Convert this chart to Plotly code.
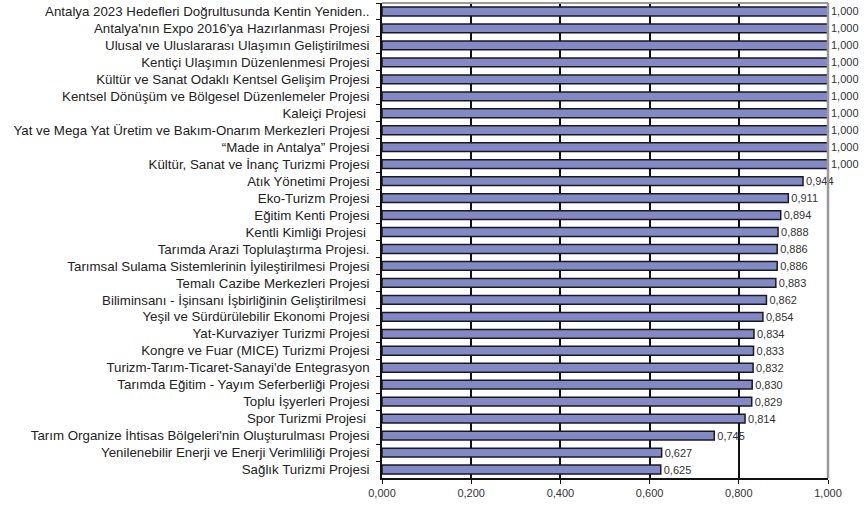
import plotly.graph_objects as go

categories = [
    "Antalya 2023 Hedefleri Doğrultusunda Kentin Yeniden..",
    "Antalya'nın Expo 2016'ya Hazırlanması Projesi",
    "Ulusal ve Uluslararası Ulaşımın Geliştirilmesi",
    "Kentiçi Ulaşımın Düzenlenmesi Projesi",
    "Kültür ve Sanat Odaklı Kentsel Gelişim Projesi",
    "Kentsel Dönüşüm ve Bölgesel Düzenlemeler Projesi",
    "Kaleiçi Projesi ",
    "Yat ve Mega Yat Üretim ve Bakım-Onarım Merkezleri Projesi",
    "“Made in Antalya” Projesi",
    "Kültür, Sanat ve İnanç Turizmi Projesi",
    "Atık Yönetimi Projesi",
    "Eko-Turizm Projesi",
    "Eğitim Kenti Projesi",
    "Kentli Kimliği Projesi ",
    "Tarımda Arazi Toplulaştırma Projesi.",
    "Tarımsal Sulama Sistemlerinin İyileştirilmesi Projesi",
    "Temalı Cazibe Merkezleri Projesi",
    "Biliminsanı - İşinsanı İşbirliğinin Geliştirilmesi ",
    "Yeşil ve Sürdürülebilir Ekonomi Projesi",
    "Yat-Kurvaziyer Turizmi Projesi",
    "Kongre ve Fuar (MICE) Turizmi Projesi",
    "Turizm-Tarım-Ticaret-Sanayi'de Entegrasyon",
    "Tarımda Eğitim - Yayım Seferberliği Projesi",
    "Toplu İşyerleri Projesi",
    "Spor Turizmi Projesi ",
    "Tarım Organize İhtisas Bölgeleri'nin Oluşturulması Projesi",
    "Yenilenebilir Enerji ve Enerji Verimliliği Projesi",
    "Sağlık Turizmi Projesi",
]
values = [1.000, 1.000, 1.000, 1.000, 1.000, 1.000, 1.000, 1.000, 1.000, 1.000,
          0.944, 0.911, 0.894, 0.888, 0.886, 0.886, 0.883, 0.862, 0.854, 0.834,
          0.833, 0.832, 0.830, 0.829, 0.814, 0.745, 0.627, 0.625]
x_ticks = [0.0, 0.2, 0.4, 0.6, 0.8, 1.0]

fig = go.Figure()
fig.add_trace(go.Bar(
    y=categories, x=values, orientation="h",
    marker=dict(color="#8289C9", line=dict(color="#1a1a1a", width=1.5)),
    text=values, texttemplate="%{x:.3f}", textposition="outside",
    constraintext="none",
    textfont=dict(size=11, color="#333333", family="Liberation Sans, Arial, sans-serif"),
    cliponaxis=False,
))

fig.update_layout(
    width=867, height=506,
    margin=dict(l=382, r=39, t=3, b=28, autoexpand=False),
    paper_bgcolor="white", plot_bgcolor="white",
    separators=",.",
    bargap=0.48,
    showlegend=False,
    font=dict(family="Liberation Sans, Arial, sans-serif", size=12, color="#222222"),
    xaxis=dict(
        range=[0, 1], tickvals=x_ticks, tickformat=".3f", automargin=False,
        showgrid=True, gridcolor="#111111", gridwidth=1.5, zeroline=False,
        showline=True, linecolor="#111111", linewidth=1.5,
        ticks="outside", ticklen=4, tickcolor="#111111",
        tickfont=dict(size=11, color="#333333"),
    ),
    yaxis=dict(
        autorange="reversed", showgrid=False, automargin=False,
        showline=True, linecolor="#111111", linewidth=1.5,
        ticks="outside", ticklen=4, tickcolor="#111111", tickson="boundaries",
        ticklabelstandoff=8,
        tickfont=dict(size=13.3, color="#222222"),
    ),
    shapes=[
        dict(type="line", xref="paper", yref="paper", x0=0, x1=1, y0=1, y1=1,
             line=dict(color="#9a9a9a", width=2), layer="above"),
        dict(type="line", xref="paper", yref="paper", x0=1, x1=1, y0=0, y1=1,
             line=dict(color="#9a9a9a", width=2.5), layer="above"),
    ],
)

fig.write_html("out.html", config={"displayModeBar": False},
               post_script="document.body.style.margin='0';")
